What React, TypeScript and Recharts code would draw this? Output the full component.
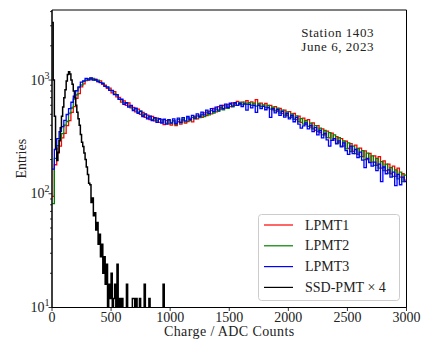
import React from 'react'
import { LineChart, Line, XAxis, YAxis, ReferenceArea, Legend, Label } from 'recharts'

const FONT = "'Liberation Serif', 'DejaVu Serif', serif"

// bin widths in ADC counts
const lpmtBin = 20
const ssdBin = 10

// LPMT histograms, bins of 20 ADC counts from 0 to 3000
const lpmt1 = [
  95, 180, 228, 262, 310, 340, 398, 440, 520, 585, 690, 760, 870, 925, 990,
  1000, 1040, 1010, 1020, 965, 985, 915, 900, 845, 850, 770, 790, 710, 705, 640,
  655, 600, 630, 570, 575, 525, 555, 500, 520, 470, 492, 450, 478, 438, 462,
  425, 448, 405, 440, 412, 402, 438, 398, 430, 410, 445, 418, 432, 460, 428,
  478, 455, 492, 470, 515, 488, 530, 505, 562, 525, 585, 555, 600, 568, 612,
  585, 630, 598, 648, 610, 640, 615, 660, 612, 642, 598, 672, 610, 628, 590,
  622, 570, 598, 548, 585, 530, 562, 510, 545, 488, 528, 470, 508, 450, 482,
  425, 462, 405, 448, 386, 420, 362, 398, 345, 372, 330, 355, 310, 342, 296,
  318, 280, 305, 262, 290, 250, 276, 236, 268, 222, 252, 212, 238, 200, 226,
  190, 215, 178, 212, 168, 195, 160, 182, 150, 175, 142, 168, 140, 150, 132,
]

const lpmt2 = [
  82, 205, 265, 305, 338, 402, 432, 512, 568, 680, 742, 858, 905, 975, 998,
  1030, 1015, 1035, 995, 1000, 955, 940, 880, 870, 815, 805, 755, 738, 680, 670,
  630, 625, 590, 590, 555, 560, 520, 535, 488, 500, 465, 478, 450, 462, 438,
  452, 425, 448, 418, 445, 415, 440, 408, 448, 420, 452, 428, 465, 440, 470,
  455, 485, 468, 500, 478, 522, 495, 538, 512, 555, 530, 575, 548, 592, 565,
  612, 580, 625, 598, 635, 605, 640, 610, 632, 598, 628, 590, 622, 585, 605,
  572, 598, 555, 578, 535, 565, 512, 545, 492, 525, 470, 505, 452, 485, 430,
  458, 410, 440, 392, 418, 372, 398, 352, 378, 330, 360, 312, 345, 295, 330,
  278, 312, 262, 292, 248, 280, 235, 262, 225, 250, 212, 240, 200, 228, 190,
  215, 178, 205, 168, 192, 160, 182, 152, 170, 142, 162, 135, 155, 128, 146,
]

const lpmt3 = [
  165, 245, 305, 352, 390, 442, 498, 560, 638, 720, 805, 870, 958, 985, 1035,
  1005, 1042, 998, 1010, 972, 948, 935, 880, 865, 810, 810, 745, 745, 675, 678,
  612, 632, 578, 600, 540, 565, 510, 530, 478, 505, 455, 482, 440, 468, 425,
  458, 418, 452, 410, 448, 420, 455, 415, 462, 425, 468, 438, 478, 448, 490,
  462, 505, 478, 522, 495, 545, 510, 560, 528, 578, 545, 598, 560, 615, 575,
  625, 590, 632, 600, 622, 585, 618, 545, 610, 570, 598, 520, 600, 560, 588,
  548, 575, 470, 560, 515, 548, 490, 530, 472, 508, 455, 488, 430, 470, 410,
  378, 395, 420, 372, 400, 352, 382, 330, 360, 310, 340, 298, 262, 295, 305,
  275, 292, 258, 280, 240, 222, 262, 225, 245, 208, 232, 198, 170, 205, 188,
  175, 190, 160, 182, 128, 172, 150, 162, 140, 155, 118, 148, 120, 140, 128,
]

// SSD-PMT histogram (already x4), bins of 10 ADC counts from 0 to 1000
const ssdX4 = [
  3200, 1000, 480, 252, 196, 232, 292, 380, 480, 580,
  700, 820, 980, 1120, 1180, 1128, 1000, 920, 800, 700,
  600, 520, 456, 400, 332, 284, 260, 228, 200, 172,
  148, 124, 120, 84, 92, 64, 68, 48, 56, 36,
  44, 28, 36, 20, 28, 16, 24, 8, 16, 12,
  20, 4, 12, 16, 8, 24, 4, 12, 8, 12,
  0, 4, 0, 16, 0, 4, 0, 0, 12, 12,
  0, 12, 0, 4, 12, 0, 0, 0, 16, 0,
  0, 0, 12, 0, 0, 0, 0, 0, 0, 0,
  0, 0, 0, 0, 16, 0, 0, 0, 0, 0,
]

const xTicks = [0, 500, 1000, 1500, 2000, 2500, 3000]
const yTicks = [
  10, 20, 30, 40, 50, 60, 70, 80, 90,
  100, 200, 300, 400, 500, 600, 700, 800, 900,
  1000, 2000, 3000, 4000,
]
const yMax = 4130

const series = [
  { name: 'LPMT1', values: lpmt1, bin: lpmtBin, color: '#ff0000', width: 1.3 },
  { name: 'LPMT2', values: lpmt2, bin: lpmtBin, color: '#008000', width: 1.3 },
  { name: 'LPMT3', values: lpmt3, bin: lpmtBin, color: '#0000ff', width: 1.3 },
  { name: 'SSD-PMT × 4', values: ssdX4, bin: ssdBin, color: '#000000', width: 1.5 },
]

// bin edges -> step points; empty bins go below the log axis and get clipped
const toSteps = (values: number[], bin: number) => {
  const pts = values.map((v, i) => ({ x: i * bin, y: v > 0 ? v : 1 }))
  const last = values[values.length - 1]
  pts.push({ x: values.length * bin, y: last > 0 ? last : 1 })
  return pts
}

const XTick = (props: any) => {
  const { x, y, payload } = props
  return (
    <g>
      <line x1={x} x2={x} y1={y} y2={y + 3.5} stroke="#000" strokeWidth={0.8} />
      <text x={x} y={y + 14} textAnchor="middle" fontSize={14} fontFamily={FONT} fill="#222">
        {payload.value}
      </text>
    </g>
  )
}

const YTick = (props: any) => {
  const { x, y, payload } = props
  const e = Math.log10(payload.value)
  const major = Math.abs(e - Math.round(e)) < 1e-6
  return (
    <g>
      <line x1={x} x2={x - (major ? 3.5 : 2)} y1={y} y2={y} stroke="#000" strokeWidth={0.8} />
      {major && (
        <text x={x - 2.5} y={y + 4.5} textAnchor="end" fontSize={14} fontFamily={FONT} fill="#222">
          10
          <tspan dy={-6} fontSize={10}>{Math.round(e)}</tspan>
        </text>
      )}
    </g>
  )
}

const LegendBox = () => (
  <svg width={142} height={87} style={{ display: 'block' }}>
    <rect x={0.5} y={0.5} width={141} height={86} rx={3} fill="rgba(255,255,255,0.8)" stroke="#cccccc" />
    {series.map((s, i) => {
      const cy = 11 + i * 20.8
      return (
        <g key={s.name}>
          <line x1={6} x2={35} y1={cy} y2={cy} stroke={s.color} strokeWidth={1.2} />
          <text x={47} y={cy + 4.6} fontSize={14} fontFamily={FONT} fill="#222">{s.name}</text>
        </g>
      )
    })}
  </svg>
)

const noteStyle: React.CSSProperties = {
  position: 'absolute',
  right: 48,
  height: 13,
  textAlign: 'right',
  fontFamily: FONT,
  fontSize: 13,
  lineHeight: '13px',
  letterSpacing: '0.55px',
  color: '#222',
  whiteSpace: 'nowrap',
}

export default function App() {
  return (
    <div style={{ position: 'absolute', left: 0, top: 0, width: 422, height: 343, background: '#fff' }}>
      <LineChart width={422} height={343} margin={{ top: 10, right: 15.5, bottom: 0, left: 0 }}>
        <XAxis
          type="number"
          dataKey="x"
          domain={[0, 3000]}
          ticks={xTicks}
          interval={0}
          allowDataOverflow
          height={35.5}
          tickLine={false}
          tickSize={0}
          tickMargin={0}
          axisLine={{ stroke: '#000', strokeWidth: 1 }}
          tick={<XTick />}
        >
          <Label
            content={(p: any) => (
              <text
                x={p.viewBox.x + p.viewBox.width / 2}
                y={p.viewBox.y + 28.5}
                textAnchor="middle"
                fontSize={14}
                fontFamily={FONT}
                letterSpacing={0.4}
                fill="#222"
              >
                Charge / ADC Counts
              </text>
            )}
          />
        </XAxis>
        <YAxis
          type="number"
          dataKey="y"
          scale="log"
          domain={[10, yMax]}
          ticks={yTicks}
          interval={0}
          allowDataOverflow
          width={52}
          tickLine={false}
          tickSize={0}
          tickMargin={0}
          axisLine={{ stroke: '#000', strokeWidth: 1 }}
          tick={<YTick />}
        >
          <Label
            content={(p: any) => {
              const cx = 25.5
              const cy = p.viewBox.y + p.viewBox.height / 2
              return (
                <text
                  x={cx}
                  y={cy}
                  transform={`rotate(-90 ${cx} ${cy})`}
                  textAnchor="middle"
                  fontSize={14}
                  fontFamily={FONT}
                  fill="#222"
                >
                  Entries
                </text>
              )
            }}
          />
        </YAxis>
        {series.map((s) => (
          <Line
            key={s.name}
            name={s.name}
            data={toSteps(s.values, s.bin)}
            dataKey="y"
            type="stepAfter"
            stroke={s.color}
            strokeWidth={s.width}
            dot={false}
            activeDot={false}
            isAnimationActive={false}
          />
        ))}
        <ReferenceArea x1={0} x2={3000} y1={10} y2={yMax} fill="none" stroke="#000" strokeWidth={1} />
        <Legend
          layout="vertical"
          align="center"
          verticalAlign="middle"
          content={() => <LegendBox />}
          wrapperStyle={{ left: 258, top: 214, width: 142, height: 87 }}
        />
      </LineChart>
      <div style={{ ...noteStyle, top: 25.5 }}>Station 1403</div>
      <div style={{ ...noteStyle, top: 40 }}>June 6, 2023</div>
    </div>
  )
}
